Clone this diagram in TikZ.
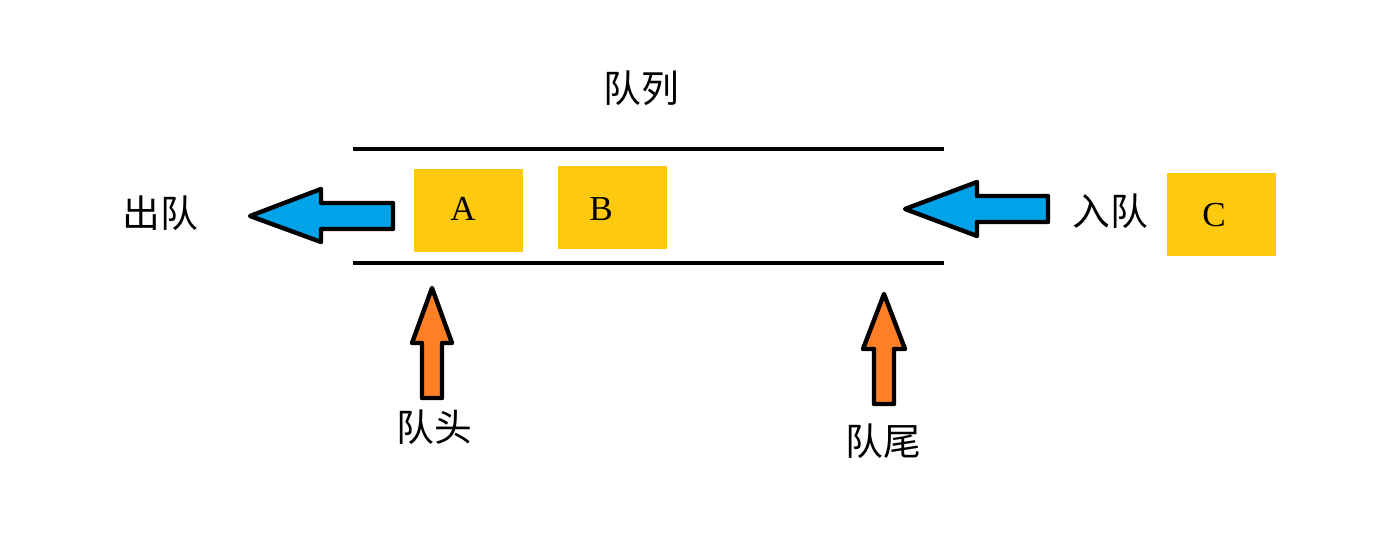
\documentclass[tikz,border=0pt]{standalone}
\usepackage{fontspec}
\newfontfamily\cjk{Noto Sans CJK SC}
\newfontfamily\letters{Liberation Serif}
\usepackage{xcolor}
\usetikzlibrary{positioning}
\definecolor{qblue}{HTML}{00A2E8}
\definecolor{qorange}{HTML}{FF7F27}
\definecolor{qyellow}{HTML}{FFC90E}

\begin{document}
\begin{tikzpicture}[x=0.02cm,y=-0.02cm,
  lbl/.style={font=\cjk\fontsize{21.5}{24}\selectfont,inner sep=0pt},
  item/.style={fill=qyellow,minimum width=2.18cm,minimum height=1.66cm,inner sep=0pt},
  itemtext/.style={font=\letters\fontsize{20}{22}\selectfont,inner sep=0pt},
  rail/.style={line width=2.3pt},
  blockarrow/.style={draw=black,line width=2.5pt,line join=round}]
  \useasboundingbox (0,0) rectangle (1385,533);

  % title and the two rails
  \node[lbl] (title) at (641,88) {队列};
  \coordinate (tl) at (353,149);
  \coordinate (tr) at (944,149);
  \coordinate (bl) at (353,263);
  \coordinate (br) at (944,263);
  \draw[rail] (tl) -- (tr);
  \draw[rail] (bl) -- (br);

  % elements
  \node[item] (a) at (468.5,210.5) {};
  \node[item] (b) at (612.5,207.5) {};
  \node[item] (c) at (1221.5,214.5) {};
  \node[itemtext] (atext) at (463,209) {A};
  \node[itemtext] (btext) at (601,209) {B};
  \node[itemtext] (ctext) at (1214,215) {C};

  % dequeue / enqueue
  \draw[blockarrow,fill=qblue] (250,216) -- (321,189) -- (321,203) -- (393,203) -- (393,229) -- (321,229) -- (321,242) -- cycle;
  \draw[blockarrow,fill=qblue] (905,209) -- (977,182) -- (977,196) -- (1048,196) -- (1048,222) -- (977,222) -- (977,236) -- cycle;
  \node[lbl] (out) at (160,213) {出队};
  \node[lbl] (in) at (1110,211) {入队};

  % head and tail pointers
  \draw[blockarrow,fill=qorange] (432,288) -- (452,343) -- (442,343) -- (442,398) -- (422,398) -- (422,343) -- (412,343) -- cycle;
  \draw[blockarrow,fill=qorange] (884,294) -- (905,349) -- (894,349) -- (894,404) -- (874,404) -- (874,349) -- (863,349) -- cycle;
  \node[lbl] (head) at (434,427) {队头};
  \node[lbl] (tail) at (883,441) {队尾};
\end{tikzpicture}
\end{document}
